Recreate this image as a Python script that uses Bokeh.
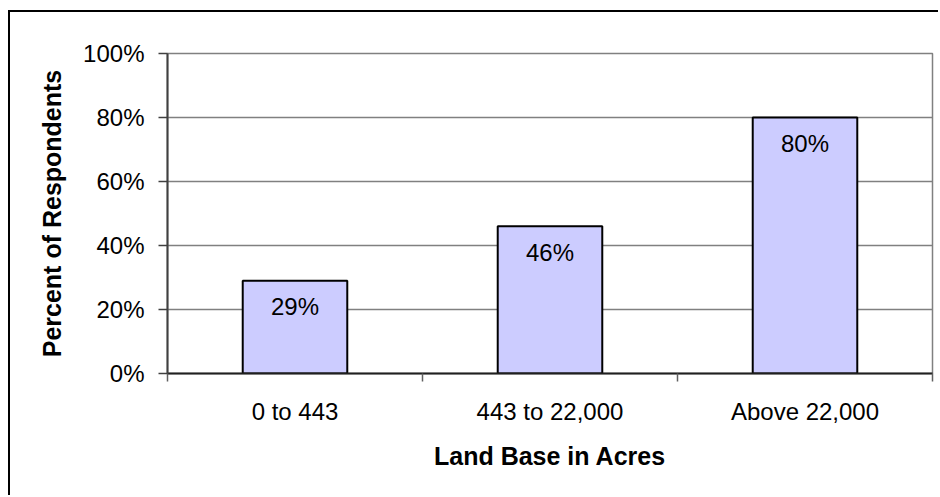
from bokeh.plotting import figure
from bokeh.models import Range1d, FixedTicker, PrintfTickFormatter
from bokeh.core.properties import value
from bokeh.embed import file_html
from bokeh.resources import INLINE

# Survey results by land base size
categories = ["0 to 443", "443 to 22,000", "Above 22,000"]
percent_respondents = [29, 46, 80]
y_ticks = [0, 20, 40, 60, 80, 100]

FONT = "Liberation Sans"

centers = [i + 0.5 for i in range(len(categories))]
boundaries = [float(i) for i in range(len(categories) + 1)]

p = figure(
    width=930, height=485,
    output_backend="svg", toolbar_location=None,
    x_range=Range1d(0, len(categories)), y_range=Range1d(0, 100),
    min_border_left=157, min_border_top=41, min_border_right=8, min_border_bottom=124,
)
p.styles = {
    "border-left": "2px solid #000000",
    "border-top": "2px solid #000000",
    "margin-left": "8px",
    "margin-top": "10px",
}

p.background_fill_color = "white"
p.border_fill_color = "white"
p.outline_line_color = "#808080"
p.outline_line_width = 1.5

# gridlines
p.xgrid.visible = False
p.ygrid.grid_line_color = "#808080"
p.ygrid.grid_line_width = 1.5

# y axis
p.yaxis.ticker = FixedTicker(ticks=y_ticks)
p.yaxis.formatter = PrintfTickFormatter(format="%d%%")
p.yaxis.axis_line_color = "#404040"
p.yaxis.axis_line_width = 2
p.yaxis.major_tick_line_color = "#404040"
p.yaxis.major_tick_line_width = 1.5
p.yaxis.major_tick_out = 9
p.yaxis.major_tick_in = 0
p.yaxis.minor_tick_line_color = None
p.yaxis.major_label_standoff = 14
p.yaxis.major_label_text_font = FONT
p.yaxis.major_label_text_font_size = "24px"
p.yaxis.major_label_text_color = "#000000"
p.yaxis.axis_label = "Percent of Respondents"
p.yaxis.axis_label_text_font = FONT
p.yaxis.axis_label_text_font_size = "25px"
p.yaxis.axis_label_text_font_style = "bold"
p.yaxis.axis_label_text_color = "#000000"
p.yaxis.axis_label_standoff = 14

# x axis: labels at category centres, tick marks at category boundaries
p.xaxis.ticker = FixedTicker(ticks=centers, minor_ticks=boundaries)
p.xaxis.major_label_overrides = {c: lab for c, lab in zip(centers, categories)}
p.xaxis.axis_line_color = "#202020"
p.xaxis.axis_line_width = 2
p.xaxis.major_tick_line_color = None
p.xaxis.major_tick_out = 0
p.xaxis.major_tick_in = 0
p.xaxis.minor_tick_line_color = "#606060"
p.xaxis.minor_tick_line_width = 1.5
p.xaxis.minor_tick_out = 8
p.xaxis.minor_tick_in = 0
p.xaxis.major_label_standoff = 16
p.xaxis.major_label_text_font = FONT
p.xaxis.major_label_text_font_size = "24px"
p.xaxis.major_label_text_color = "#000000"
p.xaxis.axis_label = "Land Base in Acres"
p.xaxis.axis_label_text_font = FONT
p.xaxis.axis_label_text_font_size = "25px"
p.xaxis.axis_label_text_font_style = "bold"
p.xaxis.axis_label_text_color = "#000000"
p.xaxis.axis_label_standoff = 14

# bars
p.vbar(x=centers, top=percent_respondents, bottom=0, width=0.41,
       fill_color="#CCCCFF", line_color="#000000", line_width=2)

# value labels inside the top of each bar
p.text(x=centers, y=percent_respondents,
       text=[f"{v}%" for v in percent_respondents],
       text_align="center", text_baseline="middle", y_offset=26,
       text_font=value(FONT), text_font_size="24px", text_color="#000000")

open("out.html", "w").write(file_html(p, INLINE))
